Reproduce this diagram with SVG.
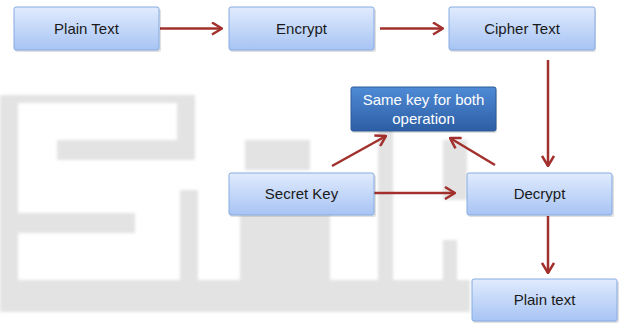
<svg xmlns="http://www.w3.org/2000/svg" width="619" height="323" viewBox="0 0 619 323">
<style>
.box{fill:url(#lb);stroke:#86abe2;stroke-width:1}
.dark{fill:url(#db);stroke:#2c5a98;stroke-width:1}
.t{font-family:"Liberation Sans",Arial,sans-serif;font-size:15px;fill:#1a1a1a;text-anchor:middle}
.w{fill:#ffffff}
.c{stroke:#a2302d;stroke-width:2.5;fill:none;marker-end:url(#ah)}
.wm{fill:#e3e3e3}
.sh{fill:#000;opacity:0.12}
</style>
<defs>
<linearGradient id="lb" x1="0" y1="0" x2="0" y2="1">
<stop offset="0" stop-color="#e1ebfd"/>
<stop offset="1" stop-color="#a7c4f4"/>
</linearGradient>
<linearGradient id="db" x1="0" y1="0" x2="0" y2="1">
<stop offset="0" stop-color="#4f8bd6"/>
<stop offset="1" stop-color="#2c5ea4"/>
</linearGradient>
<filter id="bl" x="-10%" y="-10%" width="120%" height="120%"><feGaussianBlur stdDeviation="1.5"/></filter>
<marker id="ah" viewBox="0 0 12 14" refX="11" refY="7" markerWidth="12" markerHeight="14" markerUnits="userSpaceOnUse" orient="auto">
<path d="M1,1 L11,7 L1,13" fill="none" stroke="#a2302d" stroke-width="2.5"/>
</marker>
</defs>
<g id="watermark" filter="url(#bl)">
<rect class="wm" x="0" y="95" width="195" height="8"/>
<rect class="wm" x="0" y="100" width="18" height="200"/>
<rect class="wm" x="57" y="140" width="128" height="20"/>
<rect class="wm" x="177" y="100" width="18" height="60"/>
<rect class="wm" x="0" y="213" width="135" height="20"/>
<rect class="wm" x="180" y="190" width="18" height="90"/>
<rect class="wm" x="0" y="280" width="470" height="32"/>
<rect class="wm" x="245" y="140" width="65" height="30"/>
<rect class="wm" x="378" y="130" width="15" height="150"/>
<rect class="wm" x="443" y="140" width="24" height="60"/>
<rect class="wm" x="443" y="240" width="14" height="40"/>
<rect class="wm" x="240" y="215" width="90" height="65"/>
</g>
<g id="connectors">
<line class="c" x1="160" y1="28.5" x2="222" y2="28.5"/>
<line class="c" x1="380" y1="28.5" x2="443" y2="28.5"/>
<line class="c" x1="548" y1="60" x2="548" y2="166"/>
<line class="c" x1="374" y1="193" x2="455" y2="193"/>
<line class="c" x1="332" y1="166" x2="386" y2="136"/>
<line class="c" x1="495" y1="165" x2="450" y2="138"/>
<line class="c" x1="548" y1="216" x2="548" y2="273"/>
</g>
<g id="plain-text">
<rect class="sh" x="15" y="9" width="146" height="43" rx="2"/>
<rect class="box" x="14" y="7" width="145" height="43" rx="2"/>
<text class="t" x="86.5" y="33.5">Plain Text</text>
</g>
<g id="encrypt">
<rect class="sh" x="230" y="9" width="146" height="43" rx="2"/>
<rect class="box" x="229" y="7" width="145" height="43" rx="2"/>
<text class="t" x="301.5" y="33.5">Encrypt</text>
</g>
<g id="cipher-text">
<rect class="sh" x="450" y="9" width="146" height="43" rx="2"/>
<rect class="box" x="449" y="7" width="146" height="43" rx="2"/>
<text class="t" x="522" y="33.5">Cipher Text</text>
</g>
<g id="same-key">
<rect class="sh" x="352" y="89" width="145" height="44" rx="2"/>
<rect class="dark" x="351" y="87" width="145" height="44" rx="2"/>
<text class="t w" x="423.5" y="104.5">Same key for both</text>
<text class="t w" x="423.5" y="123.5">operation</text>
</g>
<g id="secret-key">
<rect class="sh" x="230" y="175" width="146" height="42" rx="2"/>
<rect class="box" x="229" y="173" width="145" height="42" rx="2"/>
<text class="t" x="301.5" y="199">Secret Key</text>
</g>
<g id="decrypt">
<rect class="sh" x="468" y="175" width="146" height="42" rx="2"/>
<rect class="box" x="467" y="173" width="145" height="42" rx="2"/>
<text class="t" x="539.5" y="199">Decrypt</text>
</g>
<g id="plain-text-out">
<rect class="sh" x="473" y="281" width="146" height="42" rx="2"/>
<rect class="box" x="472" y="279" width="145" height="42" rx="2"/>
<text class="t" x="544.5" y="305">Plain text</text>
</g>
</svg>
